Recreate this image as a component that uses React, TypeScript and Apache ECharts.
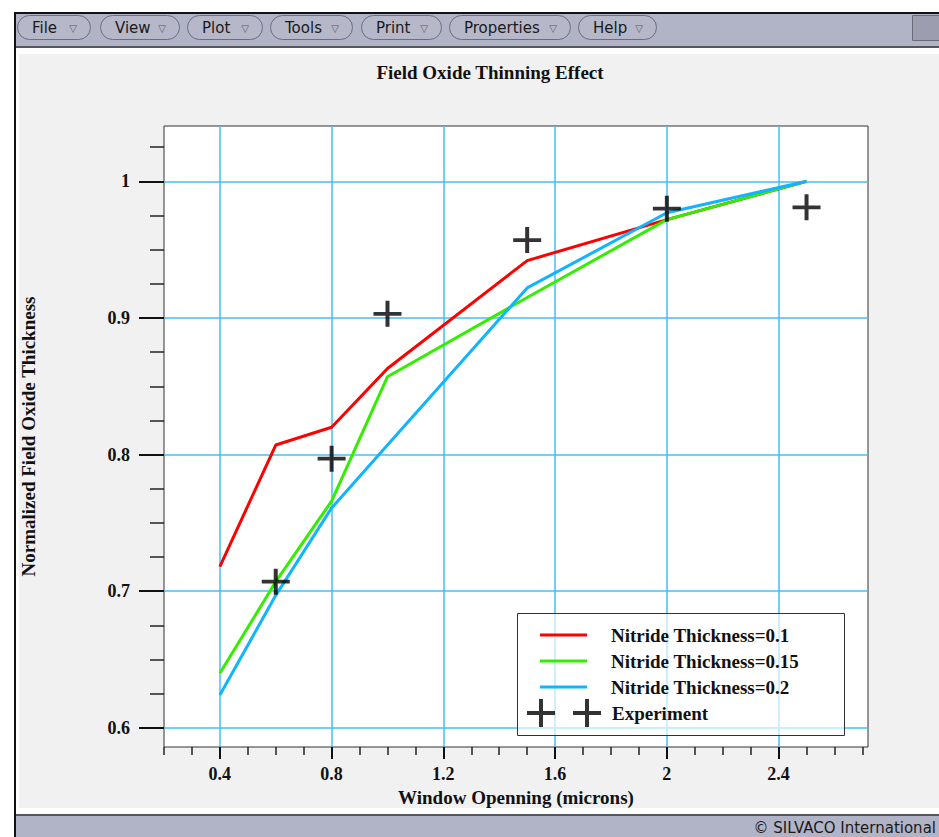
import React, { useEffect, useRef } from "react";
import * as echarts from "echarts";

// Window opening (microns) at which each simulation was run
const X_POINTS = [0.4, 0.6, 0.8, 1.0, 1.5, 2.0, 2.5];
// Normalized field oxide thickness per nitride thickness
const NITRIDE_010 = [0.718, 0.807, 0.82, 0.863, 0.942, 0.972, 1.0];
const NITRIDE_015 = [0.64, 0.707, 0.766, 0.857, 0.915, 0.972, 1.0];
const NITRIDE_020 = [0.624, 0.697, 0.761, 0.807, 0.922, 0.977, 1.0];
// Measured points
const EXP_X = [0.6, 0.8, 1.0, 1.5, 2.0, 2.5];
const EXP_Y = [0.707, 0.797, 0.903, 0.957, 0.98, 0.981];

const SERIES_NAMES = [
  "Nitride Thickness=0.1",
  "Nitride Thickness=0.15",
  "Nitride Thickness=0.2",
];
const EXP_NAME = "Experiment";

const X_TICKS = [0.4, 0.8, 1.2, 1.6, 2.0, 2.4];
const X_MINOR_TICKS = [0.2, 0.3, 0.5, 0.6, 0.7, 0.9, 1.0, 1.1, 1.3, 1.4, 1.5, 1.7, 1.8, 1.9, 2.1, 2.2, 2.3, 2.5, 2.6, 2.7];
const Y_TICKS = [0.6, 0.7, 0.8, 0.9, 1.0];
const Y_MINOR_TICKS = [0.625, 0.65, 0.675, 0.725, 0.75, 0.775, 0.825, 0.85, 0.875, 0.925, 0.95, 0.975, 1.025];

const MENU_ITEMS = ["File", "View", "Plot", "Tools", "Print", "Properties", "Help"];

const X_MIN = 0.2;
const X_MAX = 2.72;
const Y_MIN = 0.586;
const Y_MAX = 1.0405;

const SERIF = '"Liberation Serif", "Times New Roman", serif';
const SANS = '"DejaVu Sans", sans-serif';
const LINE_COLORS = ["#ff0000", "#33ee00", "#11b4ff"];
const GRID_COLOR = "#40c0f8";
const BAR_COLOR = "#b1b3c6";

// plus marker, 28 x 28 with 4px arms
const PLUS = "path://M12,0H16V12H28V16H16V28H12V16H0V12H12Z";
const PLUS_PAIR =
  "path://M12,0H16V12H28V16H16V28H12V16H0V12H12Z" +
  "M58,0H62V12H74V16H62V28H58V16H46V12H58Z";
const LINE_ICON = "path://M0,0M47,28M0,12.5H47V15.5H0Z";

// Toolbar button geometry: [left, width]
const MENU_BOXES: [number, number][] = [
  [17, 73], [100, 79], [187, 75], [270, 82], [361, 80], [449, 121], [578, 78],
];

function buildChrome() {
  const els: any[] = [];
  const rect = (x: number, y: number, w: number, h: number, fill: string) =>
    els.push({ type: "rect", shape: { x, y, width: w, height: h }, style: { fill }, silent: true, z: -5 });

  rect(0, 0, 939, 13, "#ffffff");
  rect(0, 0, 14, 837, "#ffffff");
  rect(14, 12, 925, 2, "#111111");
  rect(14, 12, 2, 825, "#111111");
  rect(16, 14, 923, 32, BAR_COLOR);
  rect(16, 46, 923, 2, "#55575f");
  rect(16, 48, 923, 6, "#ffffff");
  rect(16, 48, 3, 762, "#ffffff");
  rect(16, 808, 923, 7, "#ffffff");
  rect(16, 814, 923, 2, "#55575f");
  rect(16, 816, 923, 21, BAR_COLOR);
  // right-hand entry field in the toolbar
  els.push({
    type: "rect", silent: true, z: -4,
    shape: { x: 912.5, y: 15.5, width: 40, height: 25 },
    style: { fill: "#9c9eaf", stroke: "#6a6c78", lineWidth: 1 },
  });

  MENU_ITEMS.forEach((label, i) => {
    const [bx, bw] = MENU_BOXES[i];
    els.push({
      type: "rect", silent: true, z: -4,
      shape: { x: bx + 0.5, y: 15.5, width: bw, height: 24, r: 12 },
      style: { fill: "#b6b8ca", stroke: "#6c6e7c", lineWidth: 1 },
    });
    els.push({
      type: "text", silent: true, z: -3,
      x: bx + 15, y: 28,
      style: { text: label, fill: "#1a1a1a", font: `15px ${SANS}`, verticalAlign: "middle", align: "left" },
    });
    els.push({
      type: "text", silent: true, z: -3,
      x: bx + bw - 17, y: 28,
      style: { text: "\u25BD", fill: "#55575f", font: `10px ${SANS}`, verticalAlign: "middle", align: "center" },
    });
  });

  els.push({
    type: "text", silent: true, z: -3,
    x: 936, y: 828,
    style: { text: "\u00A9 SILVACO International", fill: "#1a1a1a", font: `15px ${SANS}`, verticalAlign: "middle", align: "right" },
  });

  // legend frame
  els.push({
    type: "rect", silent: true, z: 3,
    shape: { x: 517.5, y: 613.5, width: 327, height: 122 },
    style: { fill: "rgba(255,255,255,0.65)", stroke: "#333333", lineWidth: 1 },
  });
  return els;
}

export default function App() {
  const ref = useRef<HTMLDivElement>(null);

  useEffect(() => {
    if (!ref.current) return;
    const chart = echarts.init(ref.current, null, { renderer: "svg" });

    const lineData = [NITRIDE_010, NITRIDE_015, NITRIDE_020];
    const tickFont = { fontFamily: SERIF, fontSize: 18, fontWeight: "bold" as const, color: "#111" };
    const labelFont = { fontFamily: SERIF, fontSize: 19, fontWeight: "bold" as const, color: "#111" };

    chart.setOption({
      animation: false,
      backgroundColor: "#f1f1f1",
      title: {
        text: "Field Oxide Thinning Effect",
        left: 490,
        top: 63,
        textAlign: "center",
        padding: 0,
        textStyle: { ...labelFont },
      },
      grid: {
        left: 164,
        top: 126,
        width: 704,
        height: 621,
        show: true,
        backgroundColor: "#ffffff",
        borderColor: "#333333",
        borderWidth: 1,
      },
      xAxis: [
        {
          type: "value",
          position: "bottom",
          min: X_MIN,
          max: X_MAX,
          minInterval: 0.4,
          maxInterval: 0.4,
          name: "Window Openning (microns)",
          nameLocation: "middle",
          nameGap: 38,
          nameTextStyle: { ...labelFont },
          axisLine: { show: false },
          axisTick: { show: true, length: 12, customValues: X_TICKS, lineStyle: { color: "#111", width: 2 } },
          axisLabel: {
            customValues: X_TICKS,
            margin: 18,
            ...tickFont,
            formatter: (v: number) => String(Math.round(v * 10) / 10),
          },
          splitLine: { show: true, lineStyle: { color: GRID_COLOR, width: 1.5 } },
        },
        {
          type: "value",
          position: "bottom",
          min: X_MIN,
          max: X_MAX,
          axisLine: { show: false },
          axisTick: { show: true, length: 8, customValues: X_MINOR_TICKS, lineStyle: { color: "#222", width: 1.5 } },
          axisLabel: { show: false },
          splitLine: { show: false },
        },
      ],
      yAxis: [
        {
          type: "value",
          position: "left",
          min: Y_MIN,
          max: Y_MAX,
          minInterval: 0.1,
          maxInterval: 0.1,
          name: "Normalized Field Oxide Thickness",
          nameLocation: "middle",
          nameGap: 126,
          nameTextStyle: { ...labelFont },
          axisLine: { show: false },
          axisTick: { show: true, length: 25, customValues: Y_TICKS, lineStyle: { color: "#111", width: 2 } },
          axisLabel: {
            customValues: Y_TICKS,
            margin: 34,
            ...tickFont,
            formatter: (v: number) => String(Math.round(v * 10) / 10),
          },
          splitLine: { show: true, lineStyle: { color: GRID_COLOR, width: 1.5 } },
        },
        {
          type: "value",
          position: "left",
          min: Y_MIN,
          max: Y_MAX,
          axisLine: { show: false },
          axisTick: { show: true, length: 14, customValues: Y_MINOR_TICKS, lineStyle: { color: "#222", width: 1.5 } },
          axisLabel: { show: false },
          splitLine: { show: false },
        },
      ],
      legend: [
        {
          data: SERIES_NAMES.map((name) => ({ name, icon: LINE_ICON })),
          orient: "vertical",
          left: 540,
          top: 621,
          padding: 0,
          itemWidth: 47,
          itemHeight: 28,
          itemGap: -2,
          selectedMode: false,
          itemStyle: { borderWidth: 0 },
          textStyle: { ...labelFont, lineHeight: 28, padding: [0, 0, 0, 19] },
        },
        {
          data: [{ name: EXP_NAME, icon: PLUS_PAIR }],
          orient: "vertical",
          left: 527,
          top: 699,
          padding: 0,
          itemWidth: 74,
          itemHeight: 28,
          selectedMode: false,
          itemStyle: { borderWidth: 0 },
          textStyle: { ...labelFont, lineHeight: 28, padding: [0, 0, 0, 6] },
        },
      ],
      graphic: buildChrome(),
      series: [
        ...lineData.map((ys, i) => ({
          type: "line",
          name: SERIES_NAMES[i],
          data: X_POINTS.map((x, j) => [x, ys[j]]),
          symbol: "none",
          lineStyle: { width: 3, color: LINE_COLORS[i] },
          itemStyle: { color: LINE_COLORS[i] },
          z: 2 + i * 0.1,
        })),
        {
          type: "scatter",
          name: EXP_NAME,
          data: EXP_X.map((x, j) => [x, EXP_Y[j]]),
          symbol: PLUS,
          symbolSize: [28, 26],
          itemStyle: { color: "#000000" },
          z: 5,
        },
      ],
    });

    return () => chart.dispose();
  }, []);

  return (
    <div
      ref={ref}
      style={{ position: "fixed", left: 0, top: 0, width: 939, height: 837 }}
    />
  );
}
